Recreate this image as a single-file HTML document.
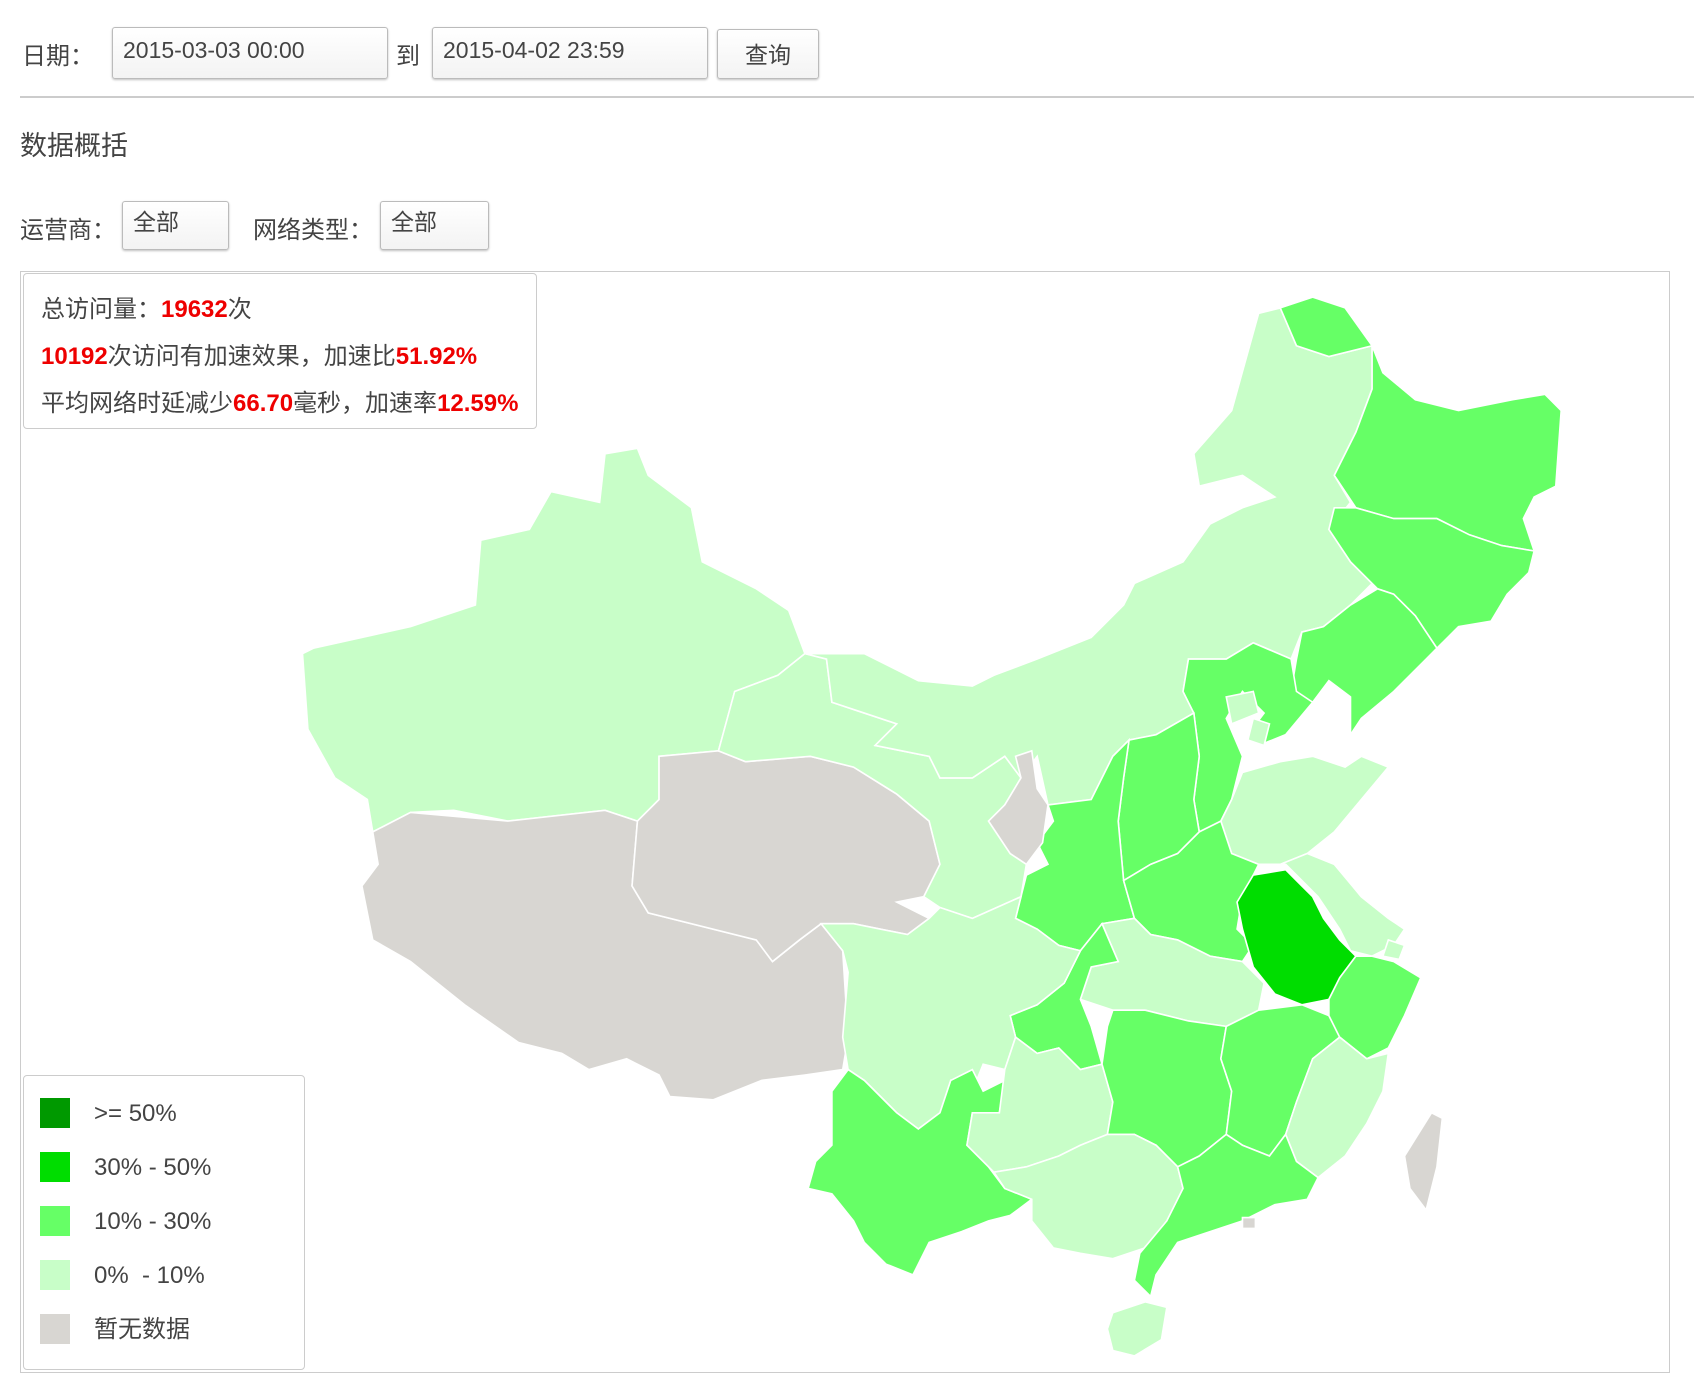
<!DOCTYPE html>
<html><head><meta charset="utf-8">
<style>
body{margin:0;width:1694px;height:1394px;background:#fff;font-family:"Liberation Sans","Noto Sans CJK SC",sans-serif;color:#333;position:relative;overflow:hidden}
.abs{position:absolute}
.inp{position:absolute;border:1px solid #bbb;border-radius:3px;background:linear-gradient(#fff,#f3f3f3);box-shadow:0 1px 2px rgba(0,0,0,.25);font-size:23px;color:#444;box-sizing:border-box;padding-left:10px;line-height:44px}
.lbl{position:absolute;font-size:24px;color:#444}
.red{color:#e00;font-weight:bold}
</style></head><body>
<div class="lbl" style="left:22px;top:36px">日期：</div>
<div class="inp" style="left:112px;top:27px;width:276px;height:52px">2015-03-03 00:00</div>
<div class="lbl" style="left:396px;top:36px">到</div>
<div class="inp" style="left:432px;top:27px;width:276px;height:52px">2015-04-02 23:59</div>
<div class="inp" style="left:717px;top:29px;width:102px;height:50px;padding:0;text-align:center;line-height:50px">查询</div>
<div class="abs" style="left:20px;top:96px;width:1674px;height:2px;background:#ccc"></div>
<div class="lbl" style="left:20px;top:124px;font-size:27px">数据概括</div>
<div class="lbl" style="left:20px;top:210px">运营商：</div>
<div class="inp" style="left:122px;top:201px;width:107px;height:49px;line-height:40px">全部</div>
<div class="lbl" style="left:253px;top:210px">网络类型：</div>
<div class="inp" style="left:380px;top:201px;width:109px;height:49px;line-height:40px">全部</div>
<div class="abs" style="left:20px;top:271px;width:1650px;height:1102px;border:1px solid #ccc;box-sizing:border-box"></div>
<svg class="abs" style="left:0;top:0" width="1694" height="1394" id="map"></svg>
<div class="abs" style="left:23px;top:273px;width:514px;height:156px;border:1px solid #ccc;border-radius:4px;background:#fff;box-sizing:border-box;font-size:24px;color:#444">
<div style="position:absolute;left:17px;top:15px">总访问量：<span class="red">19632</span>次</div>
<div style="position:absolute;left:17px;top:62px"><span class="red">10192</span>次访问有加速效果，加速比<span class="red">51.92%</span></div>
<div style="position:absolute;left:17px;top:109px;white-space:nowrap">平均网络时延减少<span class="red">66.70</span>毫秒，加速率<span class="red">12.59%</span></div>
</div>
<div class="abs" style="left:23px;top:1075px;width:282px;height:295px;border:1px solid #ccc;border-radius:4px;background:#fff;box-sizing:border-box;font-size:24px;color:#444" id="legend"></div>
<script>
const provinces=["新疆","西藏","青海","甘肃","内蒙古","黑龙江","吉林","辽宁","河北","北京","天津","山西","陕西","宁夏","山东","河南","江苏","安徽","上海","湖北","重庆","四川","云南","贵州","湖南","江西","浙江","福建","广西","广东","海南","台湾","香港"];
const rates=[5,null,null,6,4,18,20,22,15,3,4,17,16,null,6,19,7,35,5,8,14,7,21,5,16,18,20,6,4,22,3,null,null];
const legendLabels=[">= 50%","30% - 50%","10% - 30%","0%  - 10%","暂无数据"];
const legendColors=["#009900","#00dd00","#66ff66","#c8fec8","#d8d6d2"];
const geo={
"新疆":"280,605 290,600 380,580 440,560 445,500 490,490 510,455 555,465 560,420 590,415 600,440 640,470 650,520 700,545 730,565 745,605 720,625 680,640 665,695 610,700 610,740 590,760 560,750 470,760 420,750 380,752 345,770 340,740 310,720 285,675",
"西藏":"345,770 380,752 470,760 560,750 590,760 585,820 600,845 700,870 715,890 740,870 760,855 780,880 785,960 780,990 745,995 705,1000 660,1018 620,1015 610,995 580,980 545,990 520,975 480,965 430,930 380,890 345,870 335,820 350,800",
"青海":"610,700 665,695 690,705 750,700 790,710 830,735 860,760 870,800 855,830 830,835 860,850 840,865 790,855 760,855 740,870 715,890 700,870 600,845 585,820 590,760 610,740",
"甘肃":"665,695 680,640 720,625 745,605 765,610 770,650 800,660 830,670 810,690 860,700 870,720 900,720 930,700 945,720 930,745 915,760 935,790 950,800 945,830 900,850 870,840 855,830 870,800 860,760 830,735 790,710 750,700 690,705",
"内蒙古":"745,605 800,605 850,630 900,635 920,625 960,610 1010,590 1040,560 1050,540 1095,520 1120,485 1150,470 1180,460 1150,440 1110,450 1105,420 1140,380 1165,290 1185,285 1200,320 1230,330 1270,320 1270,360 1255,400 1235,440 1250,465 1230,490 1250,520 1270,540 1250,560 1225,580 1205,585 1195,610 1160,595 1135,610 1100,610 1095,640 1105,660 1070,680 1045,685 1030,700 1010,740 970,745 960,700 945,720 930,700 900,720 870,720 860,700 810,690 830,670 800,660 770,650 765,610",
"黑龙江":"1185,285 1215,275 1245,285 1270,320 1280,345 1310,370 1350,380 1400,370 1430,365 1445,380 1440,450 1420,460 1410,480 1420,510 1390,505 1360,495 1330,480 1290,480 1255,470 1235,440 1255,400 1270,360 1270,320 1230,330 1200,320",
"吉林":"1235,470 1255,470 1290,480 1330,480 1360,495 1390,505 1420,510 1415,530 1395,550 1380,575 1350,580 1330,600 1310,570 1290,550 1275,545 1250,520 1230,490",
"辽宁":"1275,545 1290,550 1310,570 1330,600 1320,610 1290,640 1260,665 1250,680 1250,645 1230,630 1215,650 1195,640 1200,610 1205,585 1225,580 1250,560",
"河北":"1100,610 1135,610 1160,595 1195,610 1200,640 1215,650 1190,680 1165,690 1155,680 1170,660 1150,640 1135,665 1150,700 1140,740 1130,760 1110,770 1105,740 1110,700 1105,660 1095,640",
"北京":"1135,645 1160,640 1165,660 1140,670",
"天津":"1160,665 1175,670 1170,690 1155,685",
"山西":"1045,685 1070,680 1105,660 1110,700 1105,740 1110,770 1090,790 1065,800 1040,815 1035,760 1040,720",
"陕西":"1010,740 1030,700 1045,685 1040,720 1035,760 1040,815 1050,850 1020,855 1000,880 980,875 960,860 940,850 950,810 970,800 960,780 975,760 970,745",
"宁夏":"940,700 955,695 960,730 970,745 965,780 950,800 935,790 915,760 930,745 945,720",
"山东":"1140,740 1150,715 1185,705 1215,700 1245,710 1260,700 1285,710 1260,740 1235,770 1210,790 1185,800 1165,800 1140,790 1130,760",
"河南":"1040,815 1065,800 1090,790 1110,770 1130,760 1140,790 1165,800 1150,830 1145,860 1160,875 1150,890 1120,885 1090,870 1065,865 1050,850",
"江苏":"1165,800 1185,800 1210,790 1235,800 1260,830 1285,850 1300,860 1290,875 1270,885 1250,880 1240,860 1220,830 1200,810 1190,800",
"安徽":"1160,810 1190,805 1200,815 1215,830 1225,850 1240,870 1255,885 1240,905 1230,925 1205,930 1180,920 1160,895 1150,860 1145,835",
"上海":"1285,870 1300,875 1295,888 1280,885",
"湖北":"1020,855 1050,850 1065,865 1090,870 1120,885 1150,890 1170,910 1165,935 1135,950 1100,945 1060,935 1030,935 1000,925 1010,895 1035,890",
"重庆":"1000,880 1020,855 1035,890 1010,895 1000,925 1010,950 1020,985 1000,990 980,970 960,975 940,960 935,940 960,930 985,910",
"四川":"760,855 790,855 840,865 860,850 870,840 900,850 945,830 940,850 960,860 980,875 1000,880 985,910 960,930 935,940 940,960 930,990 910,985 900,1010 880,1000 870,1030 850,1045 830,1030 800,1000 785,990 780,960 785,900 780,880",
"云南":"785,990 800,1000 830,1030 850,1045 870,1030 880,1000 900,990 910,1010 930,1000 925,1030 900,1030 895,1060 915,1080 930,1100 955,1110 935,1125 915,1130 890,1140 860,1150 845,1180 820,1170 800,1150 790,1130 770,1105 748,1100 755,1075 770,1060 770,1010",
"贵州":"930,990 940,960 960,975 980,970 1000,990 1020,985 1030,1020 1025,1050 1000,1060 980,1070 950,1080 920,1085 915,1080 895,1060 900,1030 925,1030",
"湖南":"1030,935 1060,935 1100,945 1135,950 1130,980 1140,1010 1135,1050 1110,1070 1090,1080 1070,1060 1050,1050 1025,1050 1030,1020 1020,985 1025,950",
"江西":"1135,950 1165,935 1205,930 1230,940 1240,960 1215,980 1200,1020 1190,1050 1175,1070 1150,1060 1135,1050 1140,1010 1130,980",
"浙江":"1240,905 1255,885 1270,885 1290,890 1315,905 1300,940 1285,970 1265,980 1240,960 1230,940 1230,925",
"福建":"1215,980 1240,960 1265,980 1285,975 1280,1010 1265,1040 1245,1070 1220,1090 1200,1075 1190,1050 1200,1020",
"广西":"920,1085 950,1080 980,1070 1000,1060 1025,1050 1050,1050 1070,1060 1090,1080 1095,1100 1080,1130 1060,1155 1030,1165 1000,1160 975,1155 955,1130 955,1110 930,1100",
"广东":"1090,1080 1110,1070 1135,1050 1150,1060 1175,1070 1190,1050 1200,1075 1220,1090 1210,1110 1180,1115 1150,1130 1120,1140 1090,1150 1070,1180 1065,1200 1050,1185 1055,1160 1080,1130 1095,1100",
"海南":"1030,1215 1060,1205 1080,1210 1075,1240 1050,1255 1030,1250 1025,1230",
"台湾":"1325,1030 1335,1035 1330,1080 1320,1120 1305,1100 1300,1070",
"香港":"1150,1127 1162,1127 1162,1137 1150,1137"
};
function colorFor(v){if(v===null)return legendColors[4];if(v>=50)return legendColors[0];if(v>=30)return legendColors[1];if(v>=10)return legendColors[2];return legendColors[3];}
const NS="http://www.w3.org/2000/svg";
const svg=document.getElementById('map');
const g=document.createElementNS(NS,'g');
g.setAttribute('transform','scale(1.0804)');
svg.appendChild(g);
provinces.forEach((p,i)=>{
  const poly=document.createElementNS(NS,'polygon');
  poly.setAttribute('points',geo[p]);
  poly.setAttribute('fill',colorFor(rates[i]));
  poly.setAttribute('stroke','#fff');
  poly.setAttribute('stroke-width','1.5');
  
  
  const t=document.createElementNS(NS,'title');t.textContent=p;poly.appendChild(t);
  g.appendChild(poly);
});
const lg=document.getElementById('legend');
legendLabels.forEach((l,i)=>{
  const row=document.createElement('div');
  
  
  row.style.cssText='position:absolute;left:16px;top:'+(22+i*54)+'px;height:32px;line-height:32px;white-space:pre';
  const sw=document.createElement('span');
  
  
  sw.style.cssText='display:inline-block;width:30px;height:30px;vertical-align:top;margin-right:24px;background:'+legendColors[i];
  row.appendChild(sw);
  row.appendChild(document.createTextNode(l));
  lg.appendChild(row);
});
</script>
</body></html>
